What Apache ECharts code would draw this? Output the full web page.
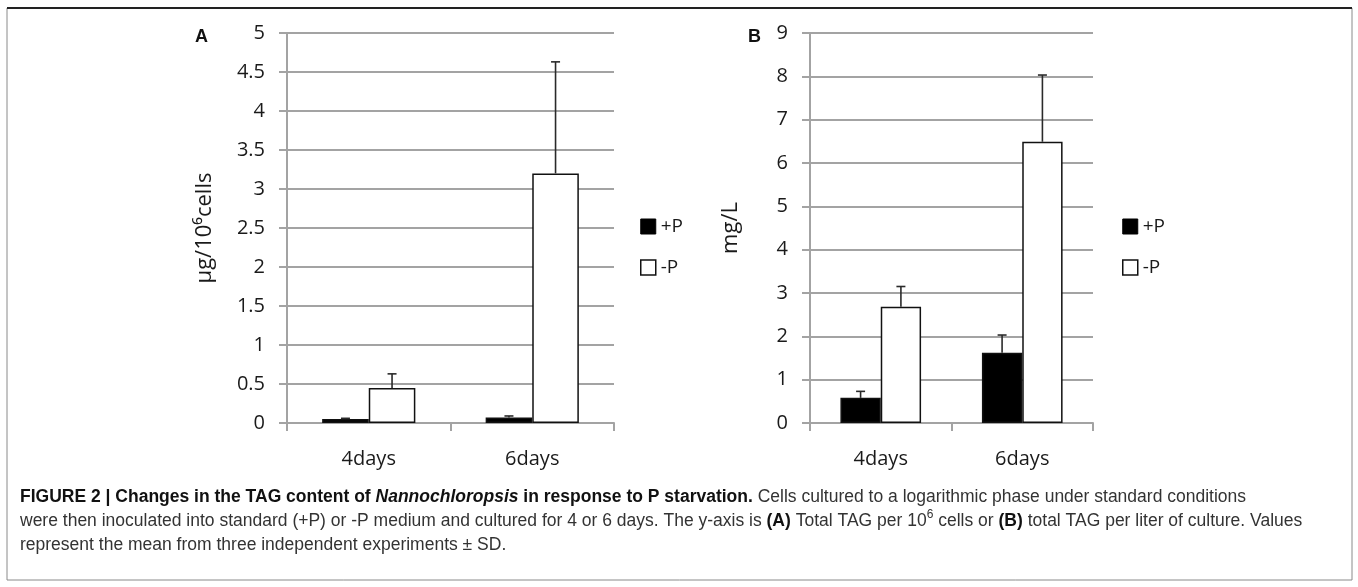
<!DOCTYPE html>
<html>
<head>
<meta charset="utf-8">
<script src="https://cdn.jsdelivr.net/npm/echarts@6/dist/echarts.min.js"></script>
<style>
html,body{margin:0;padding:0;background:#fff;}
#chart{width:1358px;height:587px;}
</style>
</head>
<body>
<div id="chart"></div>
<script>
// ---- data ----
var categories = ['4days', '6days'];
var seriesNames = ['+P', '-P'];
// Panel A: µg / 10^6 cells
var aPlus = [0.05, 0.07];
var aPlusSD = [0.01, 0.02];
var aMinus = [0.45, 3.20];
var aMinusSD = [0.18, 1.43];
// Panel B: mg / L
var bPlus = [0.58, 1.62];
var bPlusSD = [0.15, 0.41];
var bMinus = [2.68, 6.49];
var bMinusSD = [0.47, 1.54];
// axis ticks
var aTicks = {min: 0, max: 5, interval: 0.5};
var bTicks = {min: 0, max: 9, interval: 1};

var GAP = 0.43;
var gridColor = '#a3a3a3';
var txtColor = '#1a1a1a';
var labelFont = '"Open Sans", "Liberation Sans", sans-serif';

function errData(means, sds) {
  return means.map(function (m, i) { return [i, m, m + sds[i]]; });
}
function errSeries(xi, means, sds, side) {
  return {
    type: 'custom',
    xAxisIndex: xi, yAxisIndex: xi,
    silent: true, z: 5,
    data: errData(means, sds),
    renderItem: function (params, api) {
      var ci = api.value(0);
      var catW = api.size([1, 0])[0];
      var barW = catW * (1 - GAP) / 2;
      var base = api.coord([ci, api.value(1)]);
      var top = api.coord([ci, api.value(2)]);
      var x = base[0] + side * barW / 2;
      var cap = 4.5;
      var st = {stroke: '#2a2a2a', lineWidth: 1.6};
      return {
        type: 'group',
        children: [
          {type: 'line', shape: {x1: x, y1: base[1], x2: x, y2: top[1]}, style: st},
          {type: 'line', shape: {x1: x - cap, y1: top[1], x2: x + cap, y2: top[1]}, style: st}
        ]
      };
    }
  };
}
function barSeries(xi, name, data, fill) {
  return {
    type: 'bar', name: name,
    xAxisIndex: xi, yAxisIndex: xi,
    data: data,
    barGap: '0%', barCategoryGap: (GAP * 100) + '%',
    itemStyle: {color: fill, borderColor: '#111', borderWidth: 1.5},
    emphasis: {disabled: true}
  };
}
function yAxis(gi, t, name, gap) {
  return {
    type: 'value', gridIndex: gi,
    min: t.min, max: t.max, interval: t.interval,
    name: name, nameLocation: 'middle', nameGap: gap, nameRotate: 90,
    nameTextStyle: {fontFamily: labelFont, fontSize: 22, color: txtColor},
    axisLine: {show: true, lineStyle: {color: gridColor, width: 2}},
    axisTick: {show: true, length: 8, lineStyle: {color: gridColor, width: 2}},
    axisLabel: {fontFamily: labelFont, fontSize: 20, color: txtColor, margin: 22},
    splitLine: {show: true, lineStyle: {color: gridColor, width: 2}}
  };
}
function xAxis(gi) {
  return {
    type: 'category', gridIndex: gi, data: categories,
    axisLine: {show: true, lineStyle: {color: gridColor, width: 2}},
    axisTick: {show: true, length: 8, alignWithLabel: false, lineStyle: {color: gridColor, width: 2}},
    axisLabel: {fontFamily: labelFont, fontSize: 20, color: txtColor, margin: 26}
  };
}
function legend(left) {
  return {
    left: left, top: 217, orient: 'vertical', itemGap: 22, padding: 0,
    itemWidth: 15, itemHeight: 15, icon: 'rect',
    textStyle: {fontFamily: labelFont, fontSize: 19, color: txtColor},
    data: [
      {name: '+P', itemStyle: {color: '#000', borderColor: '#000', borderWidth: 1}},
      {name: '-P', itemStyle: {color: '#fff', borderColor: '#111', borderWidth: 1.5}}
    ],
    selectedMode: false
  };
}

var capFont = '"Liberation Sans", Arial, sans-serif';
var caption =
  '{b|FIGURE 2 | Changes in the TAG content of }{bi|Nannochloropsis}{b| in response to P starvation.}{r| Cells cultured to a logarithmic phase under standard conditions}\n' +
  '{r|were then inoculated into standard (+P) or -P medium and cultured for 4 or 6 days. The y-axis is }{b|(A)}{r| Total TAG per 10}{sup|6}{r| cells or }{b|(B)}{r| total TAG per liter of culture. Values}\n' +
  '{r|represent the mean from three independent experiments \u00b1 SD.}';

var chart = echarts.init(document.getElementById('chart'), null, {renderer: 'canvas'});
chart.setOption({
  backgroundColor: '#fff',
  animation: false,
  grid: [
    {left: 287, top: 33, width: 327, height: 390},
    {left: 810, top: 33, width: 283, height: 390}
  ],
  xAxis: [xAxis(0), xAxis(1)],
  yAxis: [yAxis(0, aTicks, 'µg/10⁶cells', 71), yAxis(1, bTicks, 'mg/L', 68)],
  legend: [legend(640), legend(1122)],
  series: [
    barSeries(0, seriesNames[0], aPlus, '#000'),
    barSeries(0, seriesNames[1], aMinus, '#fff'),
    barSeries(1, seriesNames[0], bPlus, '#000'),
    barSeries(1, seriesNames[1], bMinus, '#fff'),
    errSeries(0, aPlus, aPlusSD, -1),
    errSeries(0, aMinus, aMinusSD, 1),
    errSeries(1, bPlus, bPlusSD, -1),
    errSeries(1, bMinus, bMinusSD, 1)
  ],
  graphic: [
    {type: 'rect', silent: true, shape: {x: 7, y: 8, width: 1345, height: 572},
      style: {fill: 'none', stroke: '#8a8a8a', lineWidth: 1}},
    {type: 'line', silent: true, shape: {x1: 7, y1: 8, x2: 1352, y2: 8},
      style: {stroke: '#222', lineWidth: 2}},
    {type: 'text', left: 195, top: 28, silent: true,
      style: {text: 'A', font: 'bold 18px "Liberation Sans", Arial, sans-serif', fill: '#111'}},
    {type: 'text', left: 748, top: 28, silent: true,
      style: {text: 'B', font: 'bold 18px "Liberation Sans", Arial, sans-serif', fill: '#111'}},
    {type: 'text', left: 20, top: 485, silent: true,
      style: {
        text: caption,
        fill: '#222',
        lineHeight: 24,
        rich: {
          b: {fontFamily: capFont, fontWeight: 'bold', fontSize: 17.5, lineHeight: 24, fill: '#111'},
          bi: {fontFamily: capFont, fontWeight: 'bold', fontStyle: 'italic', fontSize: 17.5, lineHeight: 24, fill: '#111'},
          r: {fontFamily: capFont, fontSize: 17.5, lineHeight: 24, fill: '#333'},
          sup: {fontFamily: capFont, fontSize: 12, lineHeight: 24, verticalAlign: 'top', padding: [0, 0, 8, 0], fill: '#333'}
        }
      }}
  ]
});
</script>
</body>
</html>
